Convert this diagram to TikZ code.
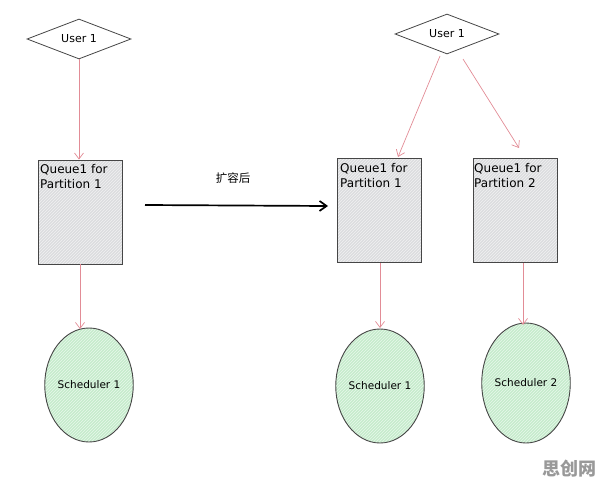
\documentclass[tikz,border=0pt]{standalone}
\usepackage{fontspec}
\setmainfont{DejaVu Sans}
\newfontfamily\cjk{Noto Sans CJK SC}
\usetikzlibrary{shapes.geometric,arrows.meta,patterns}
\definecolor{qfill}{RGB}{220,221,223}
\definecolor{sfill}{RGB}{198,236,204}
\definecolor{arr}{RGB}{226,140,150}
\definecolor{edge}{RGB}{70,70,70}
\tikzset{
  userbox/.style={diamond, draw=edge, line width=0.8pt, fill=white, minimum width=104pt, minimum height=40pt, aspect=2.6, inner sep=0pt, font=\fontsize{11}{13}\selectfont},
  queuebox/.style={rectangle, draw=edge, line width=0.9pt, preaction={fill=qfill}, pattern=north east lines, pattern color=white!60!qfill, minimum width=84pt, minimum height=104pt, inner sep=0pt},
  schedbox/.style={ellipse, draw=edge, line width=0.9pt, preaction={fill=sfill}, pattern=north east lines, pattern color=white!60!sfill, minimum width=82pt, minimum height=114pt, inner sep=0pt, font=\fontsize{10.5}{12}\selectfont},
  qlabel/.style={anchor=north west, align=left, inner sep=0pt, font=\fontsize{12}{15.5}\selectfont},
  flow/.style={draw=arr, line width=0.7pt, -{Straight Barb[length=6pt,width=9pt]}},
}
\begin{document}
\begin{tikzpicture}[x=1pt,y=-1pt]
\useasboundingbox (0,0) rectangle (596,476);
% left side
\node[userbox] (u1) at (79,39) {User 1};
\node[queuebox] (q1) at (80,212) {};
\node[qlabel] (q1t) at (40,164) {Queue1 for\\Partition 1};
\node[schedbox] (s1) at (89,385) {Scheduler 1};
\draw[flow] (u1.south) -- (u1.south |- q1.north);
\draw[flow] (q1.south) -- (80,329);
% middle arrow
\node[font=\cjk\fontsize{11.5}{13}\selectfont] (lab) at (233,178) {扩容后};
\coordinate (ms) at (145,205);
\coordinate (me) at (328,206);
\draw[black, line width=1.7pt, -{Straight Barb[length=7pt,width=10pt]}] (ms) -- (me);
% right side
\node[userbox] (u2) at (447,34) {User 1};
\node[queuebox] (q2) at (379,210) {};
\node[qlabel] (q2t) at (340,163) {Queue1 for\\Partition 1};
\node[queuebox] (q3) at (515,210) {};
\node[qlabel] (q3t) at (474,163) {Queue1 for\\Partition 2};
\node[schedbox] (s2) at (380,386) {Scheduler 1};
\node[schedbox, minimum width=84pt, minimum height=120pt] (s3) at (526,383) {Scheduler 2};
\coordinate (a1) at (440,56);
\coordinate (a2) at (463,59);
\draw[flow] (a1) -- (398,157);
\draw[flow] (a2) -- (519,148);
\draw[flow] (380,263) -- (380,328);
\draw[flow] (523,263) -- (523,325);
% watermark
\node[text=gray!80, font=\cjk\bfseries\fontsize{18}{20}\selectfont, anchor=south east, inner sep=1pt] (wm) at (598,478) {思创网};
\end{tikzpicture}
\end{document}
